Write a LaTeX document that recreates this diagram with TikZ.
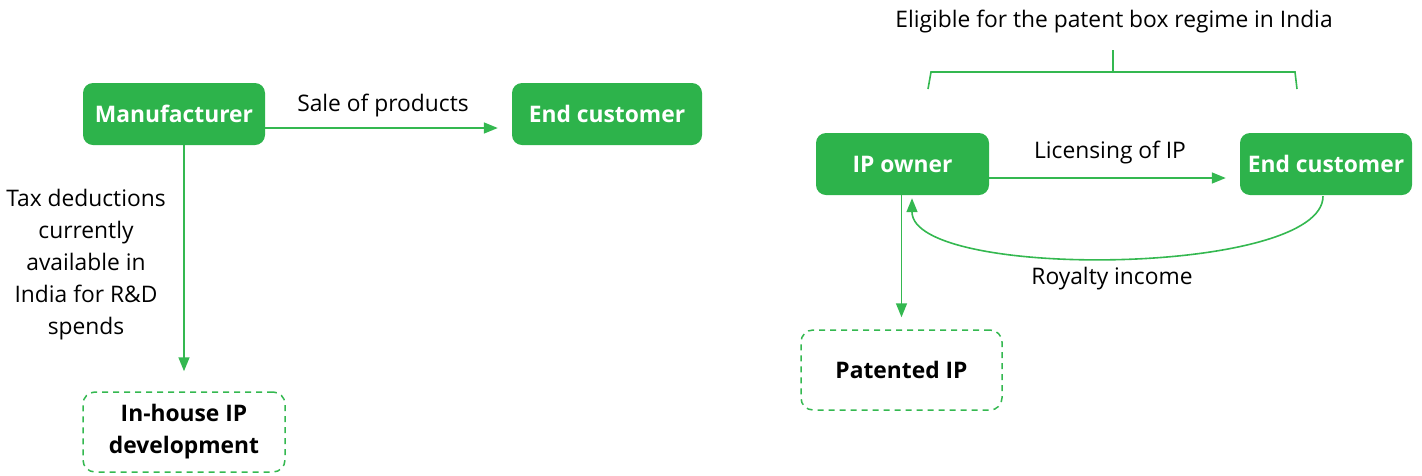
\documentclass[tikz,border=0pt]{standalone}
\usepackage{fontspec}
\setmainfont{Open Sans}
\usetikzlibrary{arrows.meta,calc}
\definecolor{gfill}{RGB}{45,179,75}
\definecolor{gline}{RGB}{52,184,80}
\tikzset{
  gbox/.style={draw=none, fill=gfill, rounded corners=10pt, text=white,
    font=\fontsize{22.8}{30}\selectfont\bfseries, inner sep=0pt, align=center},
  dbox/.style={draw=gline, dashed, dash pattern=on 6pt off 5pt, line width=1.5pt,
    rounded corners=12pt, text=black, font=\fontsize{22.8}{32}\selectfont\bfseries,
    inner sep=0pt, align=center},
  lbl/.style={font=\fontsize{22.8}{32}\selectfont, text=black, inner sep=0pt, align=center},
  conn/.style={draw=gline, line width=1.6pt},
  arr/.style={conn, -{Triangle[length=14pt,width=11pt]}},
}
\begin{document}
\begin{tikzpicture}[x=1pt,y=-1pt]
\useasboundingbox (0,0) rectangle (1422,475);
% left part
\node[gbox, minimum width=182pt, minimum height=62pt] (mfr) at (174,114) {Manufacturer};
\node[gbox, minimum width=190pt, minimum height=62pt] (ecl) at (607,114) {End customer};
\node[dbox, minimum width=202pt, minimum height=80pt] (ih) at (184,432) {In-house IP\\development};
\node[lbl] (sale) at (383,106) {Sale of products};
\node[lbl] (tax) at (86,265) {Tax deductions\\currently\\available in\\India for R\&D\\spends};
\draw[arr] ([yshift=-14pt]mfr.east) -- ([yshift=-14pt,xshift=-14pt]ecl.west);
\draw[arr] (mfr.south -| ih.north) -- ([yshift=20pt]ih.north);
% right part
\node[gbox, minimum width=173pt, minimum height=62pt] (ipo) at (902.5,164) {IP owner};
\node[gbox, minimum width=172pt, minimum height=62pt] (ecr) at (1326,164) {End customer};
\node[dbox, minimum width=201pt, minimum height=80pt] (pat) at (901.5,370) {Patented IP};
\node[lbl] (lic) at (1110,153) {Licensing of IP};
\node[lbl] (roy) at (1112,279) {Royalty income};
\node[lbl] (elig) at (1114,22) {Eligible for the patent box regime in India};
\draw[arr] ([yshift=-14pt]ipo.east) -- ([yshift=-14pt,xshift=-14pt]ecr.west);
\draw[arr] (ipo.south -| pat.north) -- ([yshift=12pt]pat.north);
\coordinate (rs) at ([xshift=-3pt,yshift=-1pt]ecr.south);
\coordinate (re) at ([xshift=9.5pt,yshift=-3pt]ipo.south);
\draw[arr] (rs) .. controls ($(rs)+(0,80)$) and ($(re)+(0,82)$) .. (re);
% bracket
\coordinate (bl) at (928,89);
\coordinate (br) at (1297,89);
\coordinate (bt) at (1113,50);
\draw[conn] (bl) -- (931,72) -- (1295,72) -- (br);
\draw[conn] (1113,72) -- (bt);
\end{tikzpicture}
\end{document}
